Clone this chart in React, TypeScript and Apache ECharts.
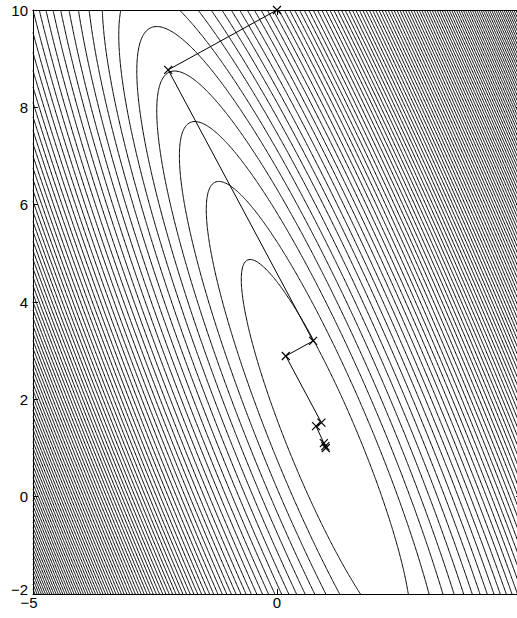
import React, { useEffect, useRef } from "react";
import * as echarts from "echarts";

// Axis ticks
const xTicks = [-5, 0, 5];
const yTicks = [-2, 0, 2, 4, 6, 8, 10];

// Estimated objective field: f(x, y) = (2(x-1) + (y-1))^2 + (x-1)^2
const fieldCenter = [1, 1];
const fieldMix = [2, 1]; // coefficients of u and v in the squared mixed term
const fieldSquare = 1; // coefficient of u^2
const levelStep = 3;
const levelCount = 104;

// Optimisation path
const pathX = [0, -2.23, 0.74, 0.18, 0.91, 0.8, 0.96, 0.99, 1.0];
const pathY = [10, 8.77, 3.2, 2.89, 1.52, 1.45, 1.1, 1.04, 1.0];

const fontFamily = "'Liberation Sans', Arial, Helvetica, sans-serif";

function field(x: number, y: number) {
  const u = x - fieldCenter[0];
  const v = y - fieldCenter[1];
  const m = fieldMix[0] * u + fieldMix[1] * v;
  return m * m + fieldSquare * u * u;
}

function computeContours(): number[][] {
  const xMin = xTicks[0], xMax = xTicks[xTicks.length - 1];
  const yMin = yTicks[0], yMax = yTicks[yTicks.length - 1];
  const nx = 400, ny = 480;
  const dx = (xMax - xMin) / nx, dy = (yMax - yMin) / ny;
  const W = nx + 1;
  const F = new Float64Array((nx + 1) * (ny + 1));
  for (let j = 0; j <= ny; j++)
    for (let i = 0; i <= nx; i++) F[j * W + i] = field(xMin + i * dx, yMin + j * dy);
  const segs: number[][] = [];
  for (let k = 0; k < levelCount; k++) segs.push([]);
  for (let j = 0; j < ny; j++) {
    for (let i = 0; i < nx; i++) {
      const a = F[j * W + i], b = F[j * W + i + 1], c = F[(j + 1) * W + i + 1], d = F[(j + 1) * W + i];
      const mn = Math.min(a, b, c, d), mx = Math.max(a, b, c, d);
      let k0 = Math.ceil(mn / levelStep);
      if (k0 < 1) k0 = 1;
      let k1 = Math.floor(mx / levelStep);
      if (k1 > levelCount) k1 = levelCount;
      const x0 = xMin + i * dx, y0 = yMin + j * dy;
      for (let k = k0; k <= k1; k++) {
        const L = k * levelStep;
        const pts: number[] = [];
        if ((a < L) !== (b < L)) { const t = (L - a) / (b - a); pts.push(x0 + t * dx, y0); }
        if ((b < L) !== (c < L)) { const t = (L - b) / (c - b); pts.push(x0 + dx, y0 + t * dy); }
        if ((d < L) !== (c < L)) { const t = (L - d) / (c - d); pts.push(x0 + t * dx, y0 + dy); }
        if ((a < L) !== (d < L)) { const t = (L - a) / (d - a); pts.push(x0, y0 + t * dy); }
        const s = segs[k - 1];
        for (let p = 0; p + 3 < pts.length; p += 4) s.push(pts[p], pts[p + 1], pts[p + 2], pts[p + 3]);
      }
    }
  }
  return segs;
}

const fmt = (v: number) => (v < 0 ? "\u2212" + Math.abs(v) : String(v));
const fmtX = (v: number) => (v === xTicks[0] ? "{lo|" + fmt(v) + "}" : fmt(v));
const fmtY = (v: number) => (v === yTicks[0] ? "{lo|" + fmt(v) + "}" : fmt(v));

export default function App() {
  const ref = useRef<HTMLDivElement>(null);
  useEffect(() => {
    if (!ref.current) return;
    const chart = echarts.init(ref.current, null, { renderer: "svg" });
    const segs = computeContours();
    const levelData = segs.map((_, i) => [1, 1, (i + 1) * levelStep]);
    const axisCommon = {
      type: "value" as const,
      axisLine: { show: true, onZero: false, lineStyle: { color: "#000", width: 1 } },
      axisTick: { show: true, inside: true, length: 5, lineStyle: { color: "#000", width: 1 } },
      splitLine: { show: false },
    };
    const labelBase = { color: "#000", fontSize: 15, fontFamily };
    chart.setOption({
      animation: false,
      backgroundColor: "#fff",
      grid: { left: 33, top: 10, right: -4, bottom: 24, containLabel: false, outerBoundsMode: "none" },
      xAxis: [
        {
          ...axisCommon,
          position: "bottom",
          min: xTicks[0],
          max: xTicks[xTicks.length - 1],
          interval: 5,
          axisLabel: {
            ...labelBase,
            margin: 1,
            formatter: fmtX,
            showMinLabel: true,
            showMaxLabel: true,
            rich: { lo: { ...labelBase, padding: [0, 8, 0, 0] } },
          },
        },
        {
          ...axisCommon,
          position: "top",
          min: xTicks[0],
          max: xTicks[xTicks.length - 1],
          interval: 5,
          axisLabel: { show: false },
        },
      ],
      yAxis: [
        {
          ...axisCommon,
          position: "left",
          min: yTicks[0],
          max: yTicks[yTicks.length - 1],
          interval: 2,
          axisLabel: {
            ...labelBase,
            margin: 5,
            formatter: fmtY,
            showMinLabel: true,
            showMaxLabel: true,
            rich: { lo: { ...labelBase, padding: [0, 0, 10, 0] } },
          },
        },
        {
          ...axisCommon,
          position: "right",
          min: yTicks[0],
          max: yTicks[yTicks.length - 1],
          interval: 2,
          axisLabel: { show: false },
        },
      ],
      series: [
        {
          type: "custom",
          coordinateSystem: "cartesian2d",
          silent: true,
          data: levelData,
          renderItem: (params: any, api: any) => {
            const s = segs[params.dataIndex];
            const parts: string[] = [];
            for (let k = 0; k < s.length; k += 4) {
              const p = api.coord([s[k], s[k + 1]]);
              const q = api.coord([s[k + 2], s[k + 3]]);
              parts.push("M" + p[0].toFixed(2) + " " + p[1].toFixed(2) + "L" + q[0].toFixed(2) + " " + q[1].toFixed(2));
            }
            return {
              type: "path",
              shape: { pathData: parts.join("") || "M0 0" },
              style: { stroke: "#000", fill: "none", lineWidth: 1 },
            };
          },
          z: 1,
        },
        {
          type: "line",
          silent: true,
          data: pathX.map((x, i) => [x, pathY[i]]),
          symbol: "path://M0,0L10,10M10,0L0,10",
          symbolSize: 8,
          showAllSymbol: true,
          itemStyle: { color: "none", borderColor: "#000", borderWidth: 1.2 },
          lineStyle: { color: "#000", width: 1 },
          z: 3,
        },
      ],
    });
    return () => chart.dispose();
  }, []);
  return <div ref={ref} style={{ position: "fixed", left: 0, top: 0, width: 517, height: 618 }} />;
}
